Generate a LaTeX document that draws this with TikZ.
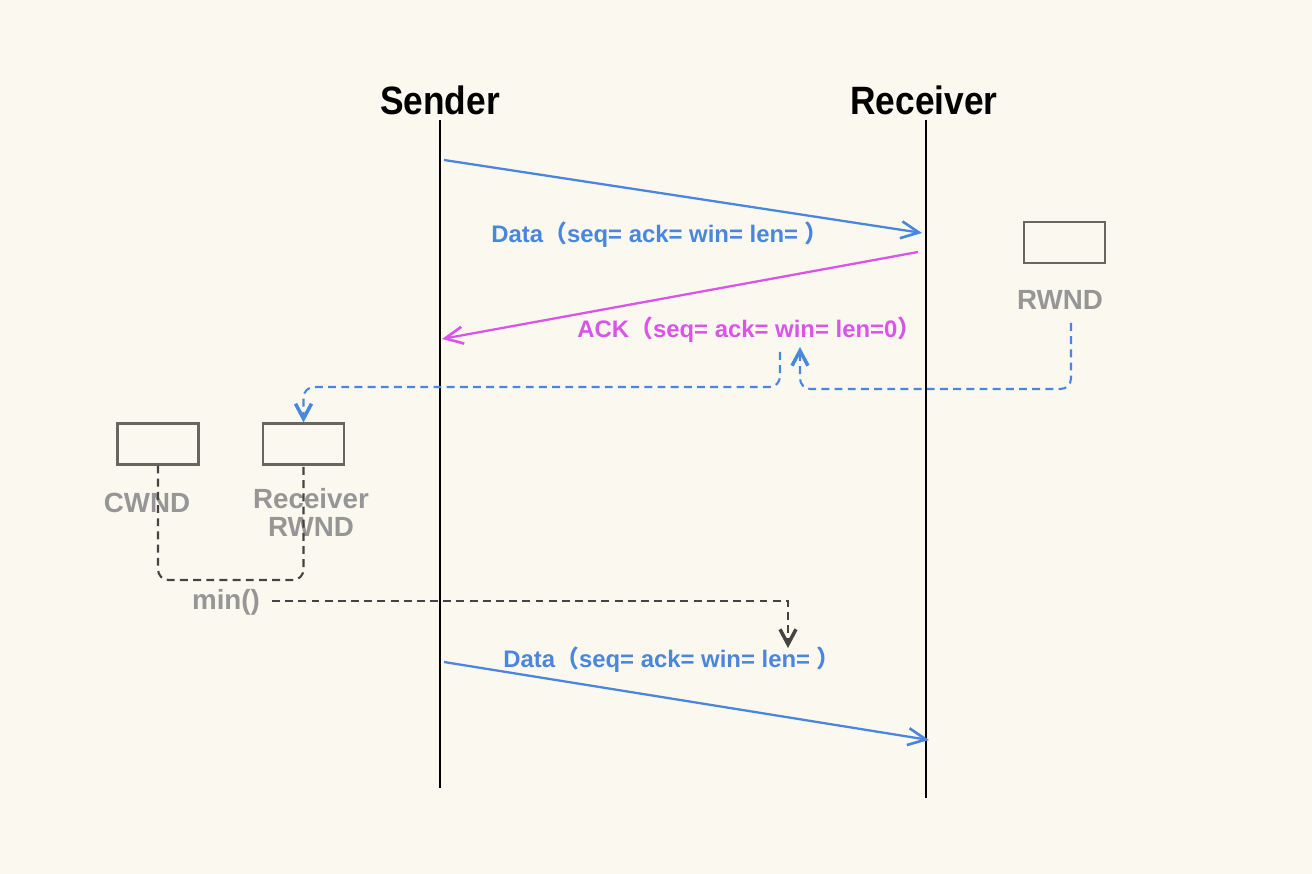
\documentclass[tikz,border=0pt]{standalone}
\usepackage{fontspec}
\usepackage{graphicx}
\setmainfont{Liberation Sans}
\newfontfamily\cjk{Noto Sans CJK JP}
\usetikzlibrary{arrows.meta}
\definecolor{bgc}{RGB}{251,249,239}
\definecolor{blueA}{RGB}{74,134,222}
\definecolor{magA}{RGB}{218,84,234}
\definecolor{grayT}{RGB}{150,150,150}
\definecolor{boxC}{RGB}{105,102,98}
\definecolor{darkD}{RGB}{68,68,68}
\newcommand{\fp}[1]{{\cjk\bfseries #1}}
\tikzset{
  title/.style={font=\fontsize{20.1}{24}\selectfont\bfseries, text=black, inner sep=0pt},
  life/.style={line width=1.3pt, black},
  msglab/.style={font=\fontsize{13.6}{16}\selectfont\bfseries, inner sep=0pt, anchor=base west},
  graylab/.style={font=\fontsize{15.8}{17}\selectfont\bfseries, text=grayT, inner sep=0pt, anchor=base, align=center},
  wbox/.style={draw=boxC, line width=1.2pt, minimum width=81*0.02cm, minimum height=41*0.02cm, inner sep=0pt},
  msg/.style={line width=1.3pt, -{Straight Barb[length=0.36cm,width=0.34cm,line width=1.5pt]}},
  bdash/.style={blueA, line width=1.2pt, dash pattern=on 4.5pt off 3pt, rounded corners=6pt},
  gdash/.style={darkD, line width=1.2pt, dash pattern=on 4.5pt off 3pt, rounded corners=6pt},
  dtip/.style={-{Straight Barb[length=0.3cm,width=0.32cm,line width=2pt]}}
}
\begin{document}
\begin{tikzpicture}[x=0.02cm,y=-0.02cm]
\fill[bgc] (0,0) rectangle (1312,874);
\useasboundingbox (0,0) rectangle (1312,874);

% titles and lifelines
\node[title] (sender) at (440,100) {\scalebox{1}[1.12]{Sender}};
\node[title] (receiver) at (924,100) {\scalebox{1}[1.12]{Receiver}};
\coordinate (sTop) at (440,120);
\coordinate (sBot) at (440,788);
\coordinate (rTop) at (926,120);
\coordinate (rBot) at (926,798);
\draw[life] (sTop) -- (sBot);
\draw[life] (rTop) -- (rBot);

% message 1: data
\coordinate (d1s) at (444,160);
\coordinate (d1e) at (922,233);
\draw[msg, blueA] (d1s) -- (d1e);
\node[msglab, text=blueA] (d1lab) at (491,243) {Data\fp{（}seq= ack= win= len= \fp{）}};

% message 2: ack
\coordinate (as) at (918,252);
\coordinate (ae) at (442,339);
\draw[msg, magA] (as) -- (ae);
\node[msglab, text=magA] (acklab) at (577,338) {ACK\fp{（}seq= ack= win= len=0\fp{）}};

% message 3: data
\coordinate (d2s) at (444,662);
\coordinate (d2e) at (929,740);
\draw[msg, blueA] (d2s) -- (d2e);
\node[msglab, text=blueA] (d2lab) at (503,667) {Data\fp{（}seq= ack= win= len= \fp{）}};

% boxes
\node[wbox] (rwnd) at (1064.5,242.5) {};
\node[graylab] (rwndlab) at (1060,310) {RWND};
\node[wbox] (cwnd) at (158,444) {};
\node[graylab] (cwndlab) at (147,513) {CWND};
\node[wbox] (rrw) at (303.5,444) {};
\node[graylab] (rrwlab) at (311,537) {Receiver\\[-1pt]RWND};
\node[graylab] (minlab) at (226,610) {min()};

% blue dashed: RWND -> ACK win
\coordinate (rwStart) at (1071,323);
\coordinate (ackWin) at (800,347);
\draw[bdash, dtip] (rwStart) -- (1071,389) -- (800,389) -- (ackWin);

% blue dashed: ACK win -> receiver RWND box
\coordinate (ackWin2) at (780,352);
\draw[bdash, dtip] (ackWin2) -- (780,387) -- (rrw.north |- 0,387) -- (rrw.north);

% dark dashed: CWND & Receiver RWND -> min
\draw[gdash] (cwnd.south) -- (158,580) -- (rrw.south |- 0,580) -- (rrw.south);

% dark dashed: min -> data 2
\coordinate (minTip) at (788,648);
\draw[gdash, dtip, rounded corners=0pt] (272,601) -| (minTip);
\end{tikzpicture}
\end{document}
